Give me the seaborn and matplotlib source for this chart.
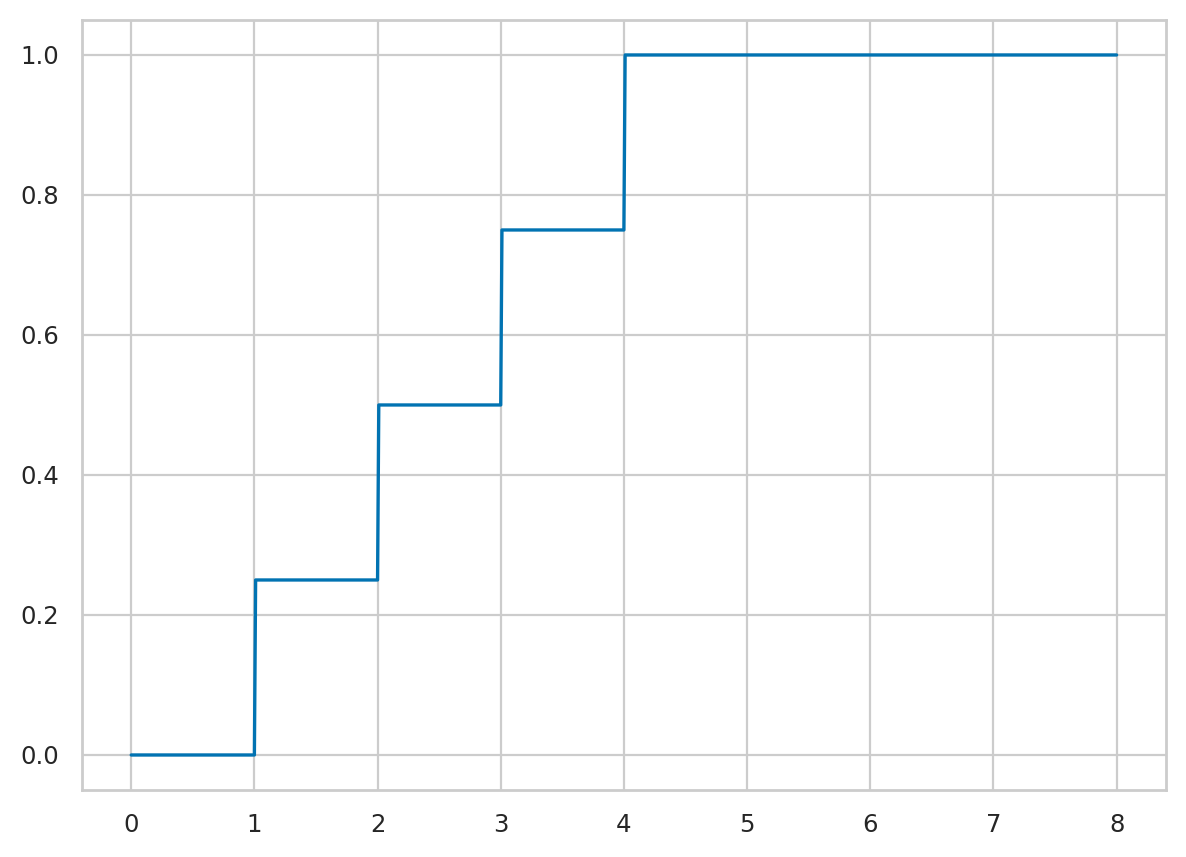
import numpy as np
import pandas as pd
import matplotlib
matplotlib.use("Agg")
import matplotlib.pyplot as plt
import seaborn as sns

# Step values (cumulative probability)
x_vals = [0, 1, 1.01, 2, 2.01, 3, 3.01, 4, 4.01, 8]
y_vals = [0, 0, 0.25, 0.25, 0.5, 0.5, 0.75, 0.75, 1.0, 1.0]

data = pd.DataFrame({"x": x_vals, "y": y_vals})

sns.set_theme(context="paper", style="whitegrid", palette="colorblind")

fig, ax = plt.subplots(figsize=(5.93, 4.285), dpi=200)
sns.lineplot(data=data, x="x", y="y", ax=ax)
ax.set_xlabel("")
ax.set_ylabel("")
ax.set_xticks(range(0, 9))
ax.set_yticks([0.0, 0.2, 0.4, 0.6, 0.8, 1.0])

fig.subplots_adjust(left=0.0691, right=0.983, top=0.9767, bottom=0.0782)
fig.savefig("out.png", dpi=200)
